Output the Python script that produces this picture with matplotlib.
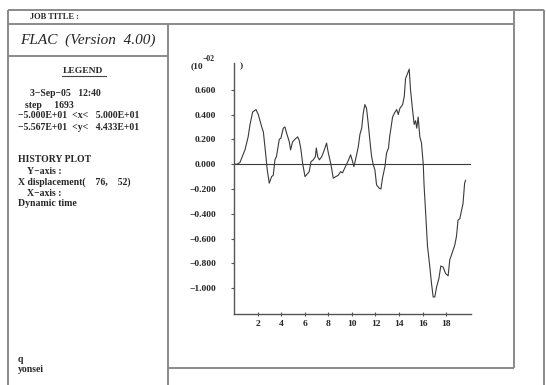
import matplotlib
matplotlib.use('Agg')
import matplotlib.pyplot as plt

# dynamic time and x displacement (x 10^-2)
time = [0, 0.25, 0.5, 0.93, 1.2, 1.36, 1.58, 1.86, 2.06, 2.35, 2.49, 2.71, 2.82, 2.99, 3.19,
        3.33, 3.47, 3.6, 3.84, 3.98, 4.18, 4.32, 4.46, 4.69, 4.8, 4.97, 5.16, 5.4, 5.54, 5.68,
        5.82, 6.02, 6.16, 6.38, 6.53, 6.72, 6.9, 6.98, 7.1, 7.24, 7.44, 7.66, 7.85, 8.0, 8.2,
        8.42, 8.64, 8.84, 9.04, 9.2, 9.4, 9.7, 9.89, 10.06, 10.17, 10.34, 10.54, 10.68, 10.83,
        10.96, 11.1, 11.24, 11.38, 11.52, 11.67, 11.8, 11.95, 12.09, 12.32, 12.46, 12.6, 12.8,
        12.94, 13.1, 13.2, 13.45, 13.6, 13.8, 13.93, 14.07, 14.3, 14.44, 14.55, 14.72, 14.86,
        14.97, 15.14, 15.28, 15.4, 15.5, 15.62, 15.76, 15.9, 16.05, 16.12, 16.27, 16.41, 16.61,
        16.75, 16.89, 17.03, 17.18, 17.38, 17.54, 17.74, 17.94, 18.16, 18.3, 18.45, 18.59,
        18.73, 18.87, 19.0, 19.15, 19.28, 19.42, 19.56, 19.64]
xdisp = [0, 0.0, 0.013, 0.115, 0.22, 0.32, 0.42, 0.44, 0.40, 0.30, 0.26, 0.06, -0.046, -0.153,
         -0.1, -0.09, 0.035, 0.06, 0.2, 0.21, 0.29, 0.30, 0.25, 0.18, 0.115, 0.18, 0.2, 0.22,
         0.19, 0.115, 0.008, -0.1, -0.085, -0.06, 0.02, 0.035, 0.06, 0.13, 0.06, 0.035, 0.06,
         0.115, 0.17, 0.09, 0.008, -0.113, -0.1, -0.09, -0.06, -0.07, -0.03, 0.03, 0.075, 0.02,
         -0.02, 0.05, 0.14, 0.24, 0.29, 0.41, 0.48, 0.45, 0.33, 0.196, 0.06, 0.0, -0.046, -0.167,
         -0.194, -0.2, -0.11, -0.02, 0.09, 0.13, 0.22, 0.38, 0.41, 0.44, 0.40, 0.45, 0.48, 0.545,
         0.69, 0.73, 0.766, 0.60, 0.44, 0.32, 0.35, 0.29, 0.38, 0.22, 0.17, 0.0, -0.17, -0.42,
         -0.66, -0.83, -0.96, -1.07, -1.07, -0.99, -0.92, -0.82, -0.83, -0.88, -0.90, -0.77,
         -0.73, -0.69, -0.65, -0.58, -0.45, -0.44, -0.38, -0.32, -0.153, -0.13]

yticks = [0.6, 0.4, 0.2, 0.0, -0.2, -0.4, -0.6, -0.8, -1.0]
ytick_labels = ['0.600', '0.400', '0.200', '0.000', '\u22120.200', '\u22120.400',
                '\u22120.600', '\u22120.800', '\u22121.000']
xticks = [2, 4, 6, 8, 10, 12, 14, 16, 18]

legend_lines = [
    (30, 94, '3\u2212Sep\u221205   12:40'),
    (25, 105, 'step     1693'),
    (18, 116, '\u22125.000E+01  <x<   5.000E+01'),
    (18, 127, '\u22125.567E+01  <y<   4.433E+01'),
    (18, 160, 'HISTORY PLOT'),
    (27, 171, 'Y\u2212axis :'),
    (18, 182, 'X displacement(    76,    52)'),
    (27, 193, 'X\u2212axis :'),
    (18, 204, 'Dynamic time'),
    (18, 359, 'q'),
    (18, 370, 'yonsei'),
]

FONT = 'Liberation Serif'
FRAME = '#8a8a8a'
INK = '#262626'

fig = plt.figure(figsize=(5.46, 3.85), dpi=100)

# page frame drawn in pixel coordinates
bg = fig.add_axes([0, 0, 1, 1])
bg.set_xlim(0, 546)
bg.set_ylim(385, 0)
bg.axis('off')
frame = [
    ([8, 544], [10, 10]),
    ([8, 514], [24, 24]),
    ([8, 8], [10, 385]),
    ([168, 168], [24, 385]),
    ([8, 168], [56, 56]),
    ([514, 514], [10, 368]),
    ([168, 514], [368, 368]),
    ([544, 544], [10, 385]),
]
for xs, ys in frame:
    bg.plot(xs, ys, color=FRAME, lw=1.4, solid_capstyle='butt')

bg.text(30, 17, 'JOB TITLE :', fontsize=6, family=FONT, weight='bold', va='center', color=INK)
bg.text(20, 40, 'FLAC  (Version  4.00)', fontsize=11, family=FONT, style='italic',
        va='center', color=INK)
bg.text(63, 71, 'LEGEND', fontsize=6.8, family=FONT, weight='bold', va='center', color=INK)
bg.plot([62, 106], [76, 76], color='#444444', lw=0.8)
for x, y, s in legend_lines:
    bg.text(x, y, s, fontsize=7, family=FONT, weight='bold', va='center', color=INK)

# y-axis unit label
bg.text(191, 66, '(10', fontsize=6.8, family=FONT, weight='bold', va='center', color=INK)
bg.text(203, 59, '\u221202', fontsize=5.5, family=FONT, weight='bold', va='center', color=INK)
bg.text(240, 66, ')', fontsize=6.8, family=FONT, weight='bold', va='center', color=INK)

# history plot
ax = fig.add_axes([234 / 546, 1 - 314 / 385, (471 - 234) / 546, (314 - 63) / 385])
ax.plot(time, xdisp, color='#3a3a3a', lw=0.8)
ax.axhline(0, color='#3a3a3a', lw=0.8)
ax.set_xlim(0, 20.1)
ax.set_ylim(-1.207, 0.815)
ax.patch.set_alpha(0)
for side in ['top', 'right']:
    ax.spines[side].set_visible(False)
for side in ['left', 'bottom']:
    ax.spines[side].set_color('#555555')
    ax.spines[side].set_linewidth(1.0)
ax.set_yticks(yticks)
ax.set_yticklabels(ytick_labels)
ax.set_xticks(xticks)
ax.set_xticklabels([str(v) for v in xticks])
ax.tick_params(axis='y', direction='out', length=2.2, width=0.8, color='#555555', pad=10.5)
ax.tick_params(axis='x', direction='inout', length=3, width=0.8, color='#555555', pad=3)
for lab in ax.get_xticklabels() + ax.get_yticklabels():
    lab.set_fontfamily(FONT)
    lab.set_fontweight('bold')
    lab.set_fontsize(6.8)
    lab.set_color(INK)

fig.savefig('out.png', dpi=100)
